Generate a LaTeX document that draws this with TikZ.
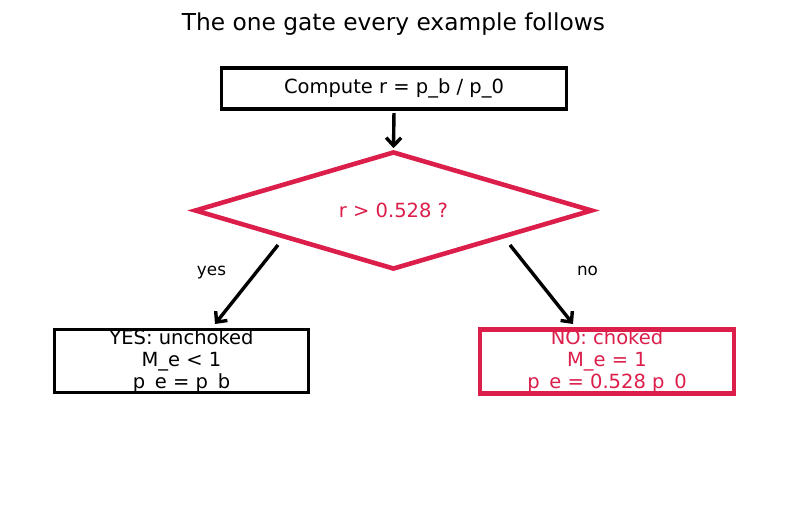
\documentclass[tikz,border=0pt]{standalone}
\usepackage{fontspec}
\setmainfont{DejaVu Sans}
\usetikzlibrary{shapes.geometric,arrows.meta}
\definecolor{crim}{RGB}{220,30,75}
\tikzset{
  boxtext/.style={font=\fontsize{19.5}{22}\selectfont, align=center, inner sep=0pt},
  blackbox/.style={boxtext, draw=black, line width=3.4pt, rectangle},
  redbox/.style={boxtext, draw=crim, text=crim, line width=4.8pt, rectangle},
  arr/.style={-{Straight Barb[length=8pt,width=15pt,line width=3.4pt]}, line width=3.4pt, black},
  lbl/.style={font=\fontsize{16.8}{19}\selectfont, inner sep=0pt}
}
\begin{document}
\begin{tikzpicture}[x=1pt,y=-1pt]
\useasboundingbox[fill=white] (0,0) rectangle (787,510);
\node[font=\fontsize{23.3}{26}\selectfont, inner sep=0pt] (title) at (393.5,24.5) {The one gate every example follows};
\node[blackbox, minimum width=345pt, minimum height=41pt] (top) at (394,88.5) {Compute r = p\_b / p\_0};
\node[diamond, shape aspect=4, draw=crim, line width=4.6pt, minimum width=398pt, minimum height=118pt, inner sep=0pt, text=crim, font=\fontsize{19.5}{22}\selectfont] (dec) at (393.5,210.5) {r > 0.528 ?};
\node[blackbox, minimum width=254pt, minimum height=61pt] (yes) at (181.5,361) {YES: unchoked\\M\_e < 1\\p\_e = p\_b};
\node[redbox, minimum width=254pt, minimum height=60pt] (no) at (607,361.5) {NO: choked\\M\_e = 1\\p\_e = 0.528 p\_0};
\coordinate (ys) at (278,245);
\coordinate (ye) at (215,324);
\coordinate (ns) at (510,245);
\coordinate (ne) at (573,324);
\draw[arr, shorten <=2.5pt, shorten >=1pt] (top.south) -- (dec.north);
\draw[arr] (ys) -- (ye);
\draw[arr] (ns) -- (ne);
\node[lbl] (ylbl) at (211.5,272.5) {yes};
\node[lbl] (nlbl) at (587.5,270.5) {no};
\end{tikzpicture}
\end{document}
